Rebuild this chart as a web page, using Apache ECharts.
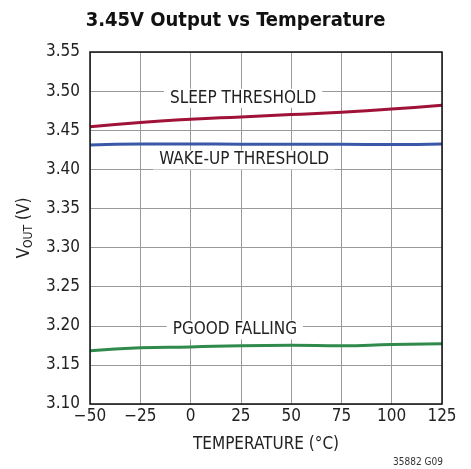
<!DOCTYPE html>
<html><head><meta charset="utf-8">
<script src="https://cdn.jsdelivr.net/npm/echarts@6/dist/echarts.min.js"></script>
<style>html,body{margin:0;padding:0;background:#fff}#c{width:471px;height:469px}</style>
</head><body><div id="c"></div>
<script>
var temps = [-50, -25, 0, 25, 50, 75, 100, 125];
var sleepV = [3.4545, 3.4600, 3.4640, 3.4670, 3.4700, 3.4730, 3.4770, 3.4820];
var wakeV = [3.4310, 3.4325, 3.4325, 3.4322, 3.4320, 3.4320, 3.4318, 3.4325];
var pgoodV = [3.1680, 3.1720, 3.1730, 3.1745, 3.1750, 3.1745, 3.1760, 3.1770];
var xTicks = ['\u221250', '\u221225', '0', '25', '50', '75', '100', '125'];
var FONT = '"Liberation Sans Narrow", "DejaVu Sans Condensed", sans-serif';
function pairs(v){ return temps.map(function(t,i){ return [t, v[i]]; }); }
function lbl(name, x, y){
  return { coord: [x, y], symbol: 'circle', symbolSize: 2, itemStyle: { color: 'rgba(255,255,255,0)' },
    label: { show: true, position: 'inside', formatter: name, color: '#222', fontFamily: FONT, fontSize: 17,
      backgroundColor: '#fff', padding: [1, 6, 1, 6] } };
}
var chart = echarts.init(document.getElementById('c'), null, {renderer: 'canvas'});
chart.setOption({
  animation: false,
  title: { text: '3.45V Output vs Temperature', left: 'center', top: 6,
    textStyle: { fontFamily: FONT, fontWeight: 'bold', fontSize: 20, color: '#111' } },
  grid: { left: 90, right: 29, top: 52, bottom: 65 },
  xAxis: { type: 'value', min: -50, max: 125, interval: 25,
    axisLine: { show: false }, axisTick: { show: false },
    splitLine: { show: true, lineStyle: { color: '#999', width: 1 } },
    axisLabel: { fontFamily: FONT, fontSize: 17, color: '#222', margin: 4,
      formatter: function(v){ return xTicks[temps.indexOf(v)]; } },
    name: 'TEMPERATURE (\u00b0C)', nameLocation: 'middle', nameGap: 32,
    nameTextStyle: { fontFamily: FONT, fontSize: 17, color: '#222' } },
  yAxis: { type: 'value', min: 3.10, max: 3.55, interval: 0.05,
    axisLine: { show: false }, axisTick: { show: false },
    splitLine: { show: true, lineStyle: { color: '#999', width: 1 } },
    axisLabel: { fontFamily: FONT, fontSize: 17, color: '#222', margin: 10,
      formatter: function(v){ return v.toFixed(2); } },
    name: '{a|V}{b|OUT}{a| (V)}', nameLocation: 'middle', nameGap: 52,
    nameTextStyle: { rich: { a: { fontFamily: FONT, fontSize: 17, color: '#222' },
      b: { fontFamily: FONT, fontSize: 12, color: '#222', verticalAlign: 'bottom', padding: [8,0,0,0] } } } },
  graphic: [
    { type: 'rect', shape: { x: 90, y: 52, width: 352, height: 352 }, style: { fill: 'none', stroke: '#111', lineWidth: 1.5 }, z: 10 },
    { type: 'text', right: 28, bottom: 2, style: { text: '35882 G09', fontFamily: FONT, fontSize: 10, fill: '#333' } }
  ],
  series: [
    { type: 'line', data: pairs(sleepV), smooth: true, symbol: 'none', lineStyle: { color: '#a01238', width: 3 },
      markPoint: { data: [lbl('SLEEP THRESHOLD', 26.1, 3.4908)] } },
    { type: 'line', data: pairs(wakeV), smooth: true, symbol: 'none', lineStyle: { color: '#3a58a8', width: 3 },
      markPoint: { data: [lbl('WAKE-UP THRESHOLD', 26.6, 3.412)] } },
    { type: 'line', data: pairs(pgoodV), smooth: true, symbol: 'none', lineStyle: { color: '#2f8a4c', width: 3 },
      markPoint: { data: [lbl('PGOOD FALLING', 22, 3.1946)] } }
  ]
});
</script></body></html>
